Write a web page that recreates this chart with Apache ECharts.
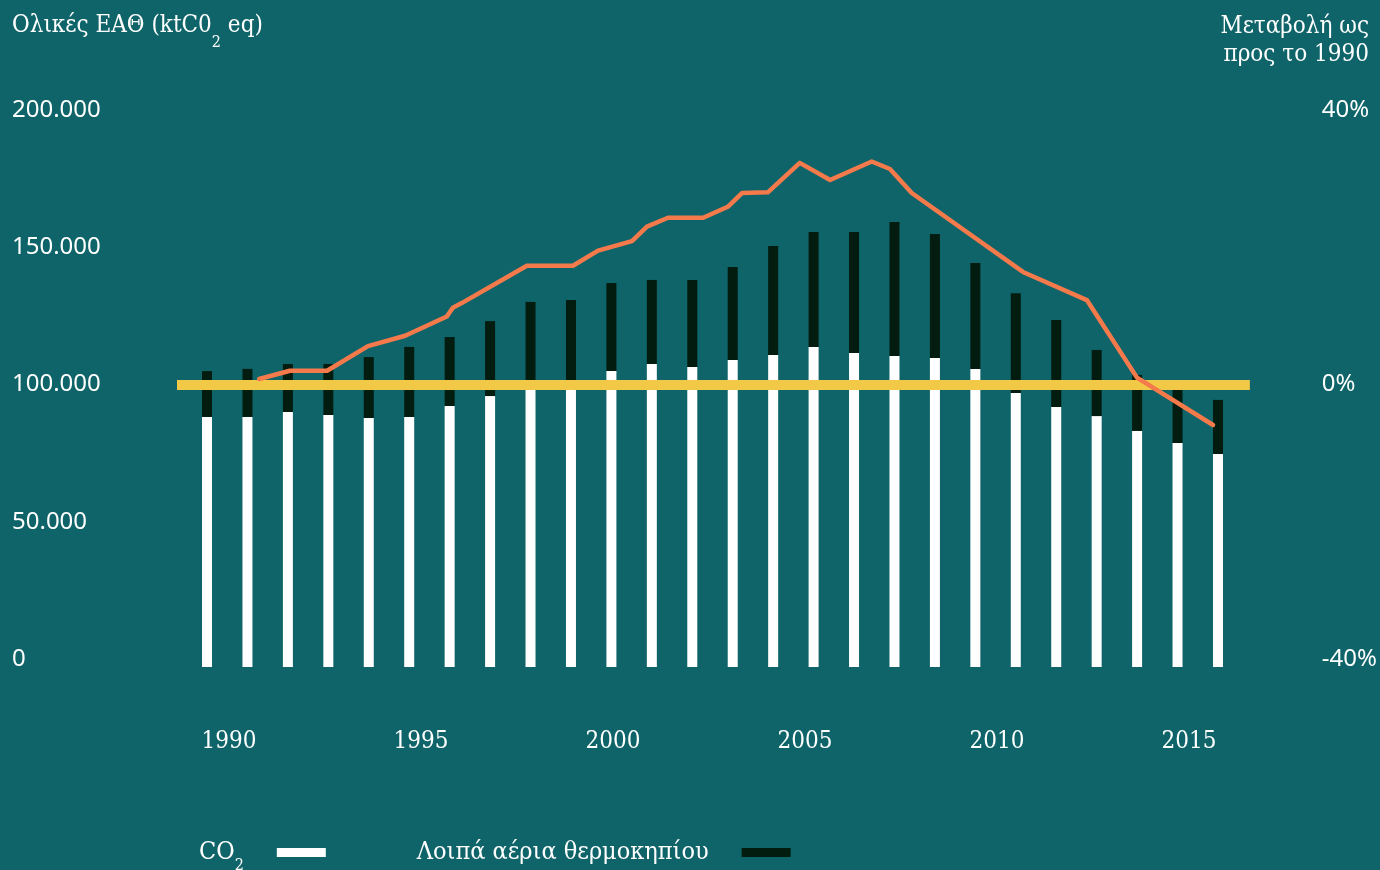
<!DOCTYPE html>
<html>
<head>
<meta charset="utf-8">
<script src="https://cdn.jsdelivr.net/npm/echarts@6/dist/echarts.min.js"></script>
<style>
html,body{margin:0;padding:0;background:#0e6469;}
#chart{width:1380px;height:870px;}
</style>
</head>
<body>
<div id="chart"></div>
<script>
// ---- Data ----
const years = ['1990','1991','1992','1993','1994','1995','1996','1997','1998','1999','2000','2001','2002','2003','2004','2005','2006','2007','2008','2009','2010','2011','2012','2013','2014','2015'];
// CO2 emissions (kt CO2 eq)
const co2 = [91100, 91100, 92900, 91800, 90700, 91100, 95100, 98700, 103100, 103100, 107800, 110400, 109300, 111800, 113700, 116600, 114400, 113300, 112600, 108600, 99800, 94700, 91400, 86000, 81600, 77600];
// Other greenhouse gases (kt CO2 eq)
const otherGhg = [16700, 17500, 17500, 18600, 22200, 25500, 25100, 27300, 29900, 30600, 32100, 30600, 31700, 33900, 39700, 41900, 44100, 48800, 45100, 38600, 36400, 31700, 24100, 20400, 21500, 19700];
// Change vs 1990 (%) – line
const changeYears = [1991.29, 1992.05, 1992.97, 1993.98, 1994.90, 1995.93, 1996.08, 1996.31, 1997.91, 1999.05, 1999.67, 2000.51, 2000.88, 2001.40, 2002.27, 2002.88, 2003.23, 2003.87, 2004.66, 2005.41, 2006.44, 2006.89, 2007.43, 2010.18, 2011.76, 2013.00, 2014.88];
const changePct = [0.8, 2.0, 2.0, 5.6, 7.1, 9.9, 11.2, 11.9, 17.3, 17.3, 19.5, 20.9, 23.0, 24.3, 24.3, 25.9, 27.9, 28.0, 32.3, 29.8, 32.5, 31.4, 27.9, 16.4, 12.3, 1.0, -5.9];
const leftTicks = [0, 50000, 100000, 150000, 200000];
const rightTicks = [-40, 0, 40];
const yearTicks = [1990, 1995, 2000, 2005, 2010, 2015];
const seriesNames = ['CO₂', 'Λοιπά αέρια θερμοκηπίου'];

// ---- Layout ----
const W = 1380;
const barLeft = 186.8, barRight = 1238.2;
const pxYear = (barRight - barLeft) / years.length;
const firstCenter = barLeft + pxYear / 2;
const refLeft = 177, refRight = 1250;
const lineMin = 1990 - (firstCenter - refLeft) / pxYear;
const lineMax = 1990 + (refRight - firstCenter) / pxYear;

const SERIF = '"DejaVu Serif Condensed", "DejaVu Serif", serif';
const SANS = '"Noto Sans", "Open Sans", sans-serif';
const WHITE = '#ffffff', DARK = '#031c10', ORANGE = '#f47a4b', YELLOW = '#f2c847';

const chart = echarts.init(document.getElementById('chart'), null, {renderer: 'canvas'});

const fmtThousands = v => String(v).replace(/\B(?=(\d{3})+(?!\d))/g, '.');

chart.setOption({
  backgroundColor: '#0e6469',
  animation: false,
  title: [
    {text: '{a|Ολικές ΕΑΘ (ktC0}{s|2}{a| eq)}', left: 12, top: 14, padding: 0,
     textStyle: {color: WHITE, fontFamily: SERIF, fontSize: 24, fontWeight: 'normal',
       rich: {
         a: {color: WHITE, fontFamily: SERIF, fontSize: 24, lineHeight: 24, verticalAlign: 'top'},
         s: {color: WHITE, fontFamily: SERIF, fontSize: 16, lineHeight: 16, verticalAlign: 'top', padding: [21, 0, 0, 0]}
       }}},
    {text: 'Μεταβολή ως\nπρος το 1990', left: 1369, top: 13, padding: 0, textAlign: 'right',
     textStyle: {color: WHITE, fontFamily: SERIF, fontSize: 24, fontWeight: 'normal', lineHeight: 28}}
  ],
  legend: {
    left: 199, top: 840, padding: 0, align: 'right', itemGap: 91, itemWidth: 49, itemHeight: 9,
    icon: 'rect', selectedMode: false,
    formatter: name => name === seriesNames[0] ? '{a|CO}{s|2}' : '{a|' + name + '}',
    textStyle: {color: WHITE, fontFamily: SERIF, fontSize: 25, padding: [0, 28, 0, 0],
      rich: {
        a: {color: WHITE, fontFamily: SERIF, fontSize: 25, lineHeight: 25},
        s: {color: WHITE, fontFamily: SERIF, fontSize: 16, lineHeight: 16, verticalAlign: 'top', padding: [18, 0, 0, 0]}
      }},
    data: seriesNames
  },
  grid: [
    {left: refLeft, right: W - refRight, top: 110, height: 549},
    {left: barLeft, right: W - barRight, top: 118, height: 549},
    {left: 229, width: 960, top: 108, height: 549}
  ],
  xAxis: [
    {gridIndex: 0, type: 'value', min: lineMin, max: lineMax, show: false},
    {gridIndex: 1, type: 'category', data: years, show: false},
    {gridIndex: 2, type: 'value', min: yearTicks[0], max: yearTicks[yearTicks.length - 1], interval: 5,
     axisLine: {show: false}, axisTick: {show: false}, splitLine: {show: false},
     axisLabel: {color: WHITE, fontFamily: SERIF, fontSize: 24, margin: 73, formatter: v => String(v)}}
  ],
  yAxis: [
    {gridIndex: 0, type: 'value', min: leftTicks[0], max: leftTicks[leftTicks.length - 1], interval: 50000, position: 'left',
     axisLine: {show: false}, axisTick: {show: false}, splitLine: {show: false},
     axisLabel: {color: WHITE, fontFamily: SANS, fontSize: 24, align: 'left', margin: refLeft - 12, formatter: fmtThousands}},
    {gridIndex: 0, type: 'value', min: rightTicks[0], max: rightTicks[rightTicks.length - 1], interval: 40, position: 'right',
     axisLine: {show: false}, axisTick: {show: false}, splitLine: {show: false},
     axisLabel: {color: WHITE, fontFamily: SANS, fontSize: 24, align: 'left', margin: 1322 - refRight, formatter: v => v + '%'}},
    {gridIndex: 1, type: 'value', min: 0, max: 200000, show: false},
    {gridIndex: 2, type: 'value', show: false}
  ],
  series: [
    {name: seriesNames[0], type: 'bar', xAxisIndex: 1, yAxisIndex: 2, stack: 'ghg', barWidth: 10,
     itemStyle: {color: WHITE}, data: co2, z: 2},
    {name: seriesNames[1], type: 'bar', xAxisIndex: 1, yAxisIndex: 2, stack: 'ghg', barWidth: 10,
     itemStyle: {color: DARK}, data: otherGhg, z: 2},
    {name: 'Μεταβολή', type: 'line', xAxisIndex: 0, yAxisIndex: 1, showSymbol: false, symbol: 'none', z: 6,
     lineStyle: {color: ORANGE, width: 4.5, cap: 'round', join: 'round'},
     data: changeYears.map((y, i) => [y, changePct[i]]),
     markLine: {silent: true, symbol: 'none', z: 3, label: {show: false},
       lineStyle: {color: YELLOW, width: 10, type: 'solid'},
       data: [{yAxis: 0}]}}
  ]
});
</script>
</body>
</html>
